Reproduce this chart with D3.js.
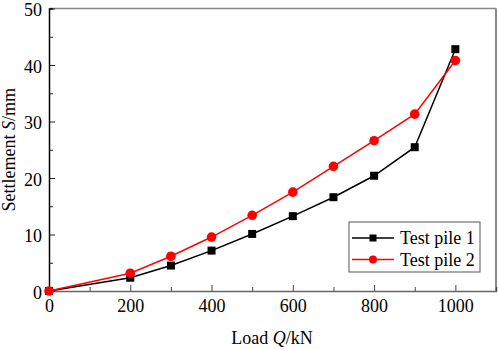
<!DOCTYPE html>
<html><head><meta charset="utf-8">
<script src="https://cdn.jsdelivr.net/npm/d3@7"></script>
<style>body{margin:0;background:#fff}svg{display:block}text{font-family:"Liberation Serif","Times New Roman",serif}</style>
</head><body>
<script>
const loads = [0, 200, 300, 400, 500, 600, 700, 800, 900, 1000];
const pile1 = [0, 2.35, 4.5, 7.15, 10.1, 13.25, 16.6, 20.4, 25.45, 42.8];
const pile2 = [0, 3.15, 6.15, 9.55, 13.4, 17.5, 22.05, 26.6, 31.3, 40.8];
const seriesNames = ["Test pile 1", "Test pile 2"];
const xTicks = [0, 200, 400, 600, 800, 1000];
const yTicks = [0, 10, 20, 30, 40, 50];

const W = 498, H = 350;
const m = {left: 49, top: 8.5, right: 496, bottom: 291};
const FS = 18;
const svg = d3.select("body").append("svg").attr("width", W).attr("height", H);
const x = d3.scaleLinear().domain([0, 1100]).range([m.left, m.right]);
const y = d3.scaleLinear().domain([0, 50]).range([m.bottom, m.top]);

// frame (top/right gray)
svg.append("line").attr("x1", m.left).attr("x2", m.right).attr("y1", m.top).attr("y2", m.top).attr("stroke", "#888").attr("stroke-width", 1.5);
svg.append("line").attr("x1", m.right).attr("x2", m.right).attr("y1", m.top).attr("y2", m.bottom).attr("stroke", "#888").attr("stroke-width", 2);

// bottom axis
const xa = svg.append("g").attr("transform", `translate(0,${m.bottom})`)
  .call(d3.axisBottom(x).tickValues(d3.range(0, 1101, 100)).tickSize(-4).tickFormat(d => xTicks.includes(d) ? d : ""));
xa.select(".domain").attr("stroke", "#666").attr("stroke-width", 1.5);
xa.selectAll(".tick line").attr("stroke", "#444");
xa.selectAll(".tick").filter(d => xTicks.includes(d)).select("line").attr("y2", -6);
xa.selectAll("text").attr("font-size", FS).attr("fill", "#000").attr("y", 8).attr("dy", "0.71em").attr("font-family", "Liberation Serif");

// left axis
const ya = svg.append("g").attr("transform", `translate(${m.left},0)`)
  .call(d3.axisLeft(y).tickValues(d3.range(0, 51, 5)).tickSize(-4).tickFormat(d => yTicks.includes(d) ? d : ""));
ya.select(".domain").attr("stroke", "#000").attr("stroke-width", 1.5);
ya.selectAll(".tick line").attr("stroke", "#222");
ya.selectAll(".tick").filter(d => yTicks.includes(d)).select("line").attr("x2", 6);
ya.selectAll("text").attr("font-size", FS).attr("fill", "#000").attr("x", -7).attr("dy", "0.4em").attr("font-family", "Liberation Serif");

// axis titles
const xt = svg.append("text").attr("x", 272).attr("y", 344).attr("text-anchor", "middle").attr("font-size", FS);
xt.append("tspan").text("Load ");
xt.append("tspan").attr("font-style", "italic").text("Q");
xt.append("tspan").text("/kN");
const yt = svg.append("text").attr("transform", `translate(15,${(m.top + m.bottom) / 2}) rotate(-90)`).attr("text-anchor", "middle").attr("font-size", FS);
yt.append("tspan").text("Settlement ");
yt.append("tspan").attr("font-style", "italic").text("S");
yt.append("tspan").text("/mm");

const line = d3.line().x(d => x(d[0])).y(d => y(d[1]));
const d1 = loads.map((l, i) => [l, pile1[i]]);
const d2 = loads.map((l, i) => [l, pile2[i]]);

svg.append("path").datum(d1).attr("d", line).attr("fill", "none").attr("stroke", "#000").attr("stroke-width", 1.5);
svg.selectAll(".sq").data(d1).enter().append("rect")
  .attr("x", d => x(d[0]) - 4).attr("y", d => y(d[1]) - 4).attr("width", 8).attr("height", 8).attr("fill", "#000");
svg.append("path").datum(d2).attr("d", line).attr("fill", "none").attr("stroke", "#ff0000").attr("stroke-width", 1.5);
svg.selectAll(".ci").data(d2).enter().append("circle")
  .attr("cx", d => x(d[0])).attr("cy", d => y(d[1])).attr("r", 4.8).attr("fill", "#ff0000");

// legend
const lg = svg.append("g");
lg.append("rect").attr("x", 349).attr("y", 222).attr("width", 131).attr("height", 50).attr("fill", "#fff").attr("stroke", "#555").attr("stroke-width", 1);
const colors = ["#000", "#ff0000"];
seriesNames.forEach((n, i) => {
  const cy = 238 + i * 21.5;
  lg.append("line").attr("x1", 352).attr("x2", 394).attr("y1", cy).attr("y2", cy).attr("stroke", colors[i]).attr("stroke-width", 1.5);
  if (i === 0) lg.append("rect").attr("x", 369.5).attr("y", cy - 3.5).attr("width", 7).attr("height", 7).attr("fill", colors[i]);
  else lg.append("circle").attr("cx", 373).attr("cy", cy).attr("r", 4).attr("fill", colors[i]);
  lg.append("text").attr("x", 400).attr("y", cy + 6).attr("font-size", FS).text(n);
});
</script>
</body></html>
